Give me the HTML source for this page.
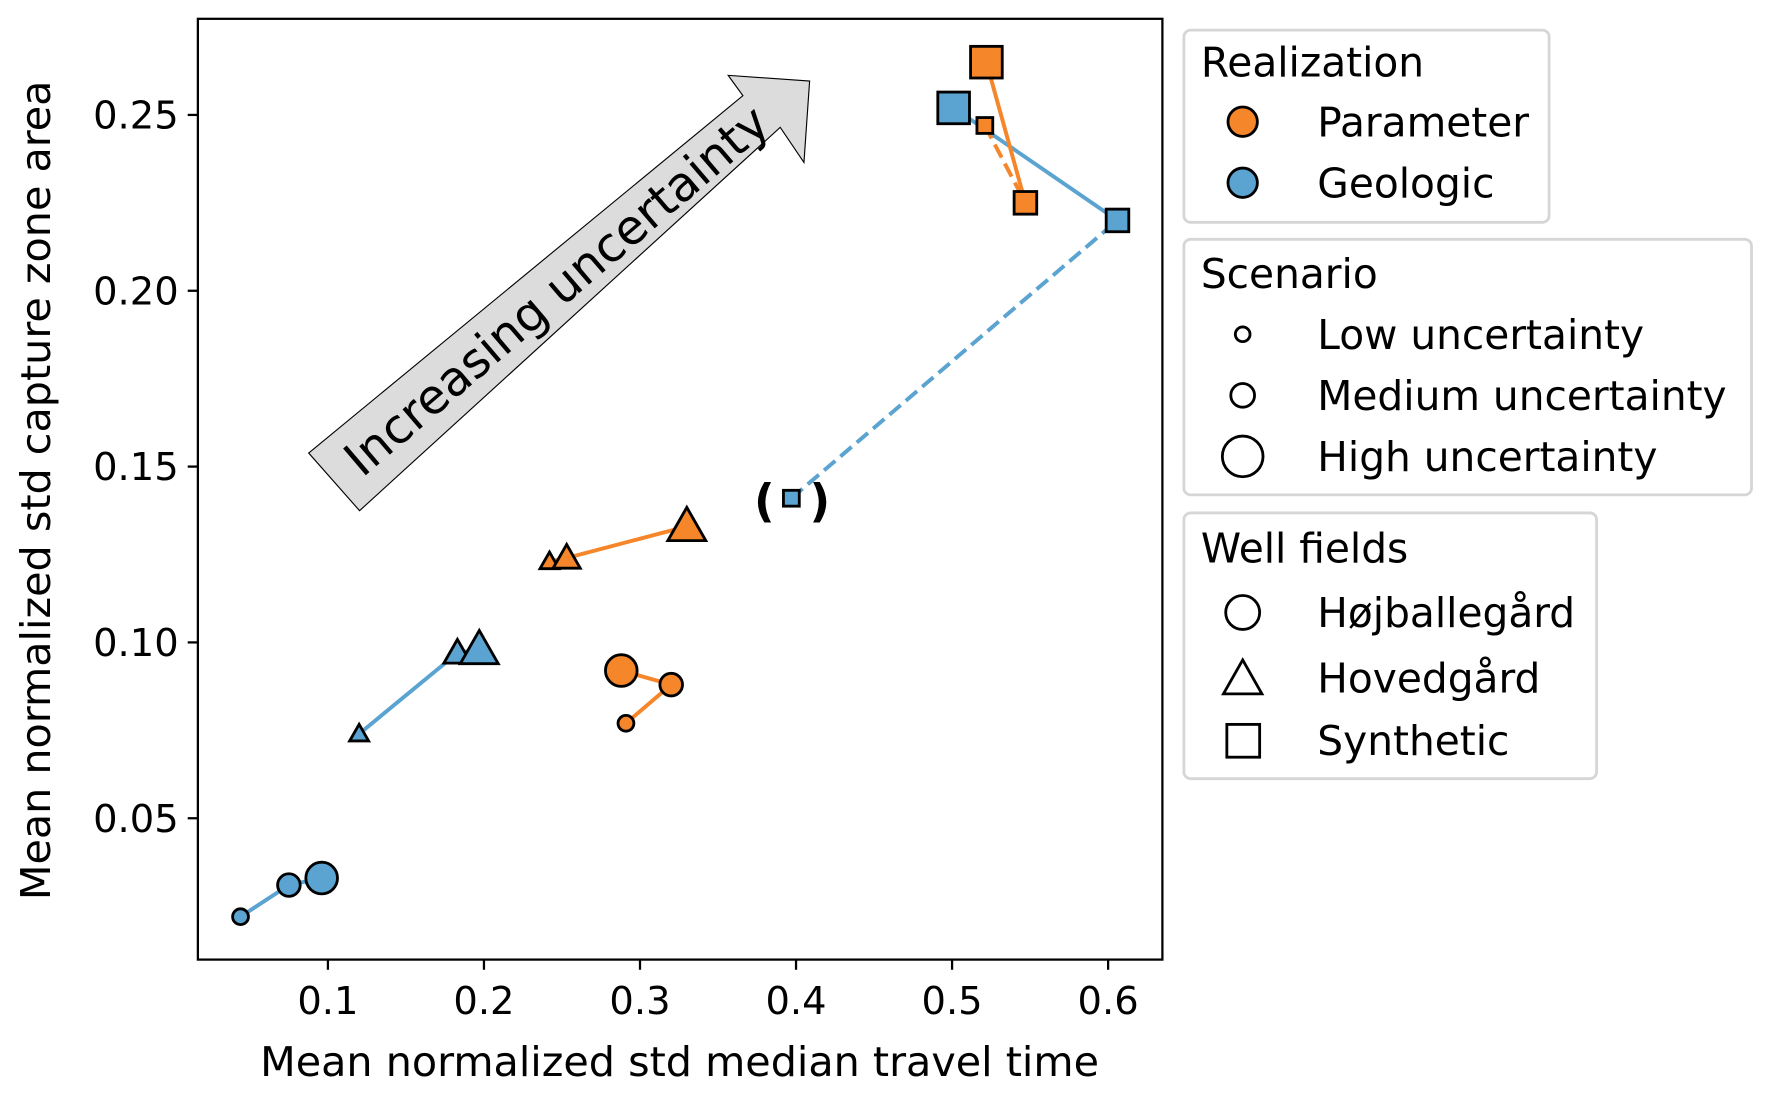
<!DOCTYPE html>
<html><head><meta charset="utf-8"><style>
html,body{margin:0;padding:0;background:#fff;}
svg{display:block;font-family:"DejaVu Sans","Liberation Sans",sans-serif;}
</style></head><body>
<svg id="chart" width="1773" height="1096" viewBox="0 0 1568 968">
<rect x="0" y="0" width="1568" height="968" fill="#fff"/>
<g id="arrow">
<polygon points="273,400 657,84 644,66 716,71 711,143 690,112 318,451" fill="#dcdcdc" stroke="#000" stroke-width="1"/>
<text x="492" y="271" font-size="42.5" text-anchor="middle" transform="rotate(-40.5 492 256)">Increasing uncertainty</text>
</g>
<g id="lines"></g>
<g id="marks"></g>
<text x="676" y="456" font-size="40" font-weight="bold" text-anchor="middle">(</text>
<text x="725" y="456" font-size="40" font-weight="bold" text-anchor="middle">)</text>
<rect x="175" y="16" width="853" height="832" fill="none" stroke="#000" stroke-width="2"/>
<g id="xticks"></g><g id="yticks"></g>
<text x="601" y="951" font-size="36.5" text-anchor="middle">Mean normalized std median travel time</text>
<text transform="translate(44 433) rotate(-90)" font-size="36.5" text-anchor="middle">Mean normalized std capture zone area</text>

<g>
<rect x="1047" y="26" width="323" height="170" rx="6" fill="#fff" stroke="#d6d6d6" stroke-width="2.5"/>
<text x="1062" y="67" font-size="36">Realization</text>
<circle cx="1099" cy="107" r="13" fill="#f5862a" stroke="#000" stroke-width="2.5"/>
<text x="1165" y="120" font-size="36">Parameter</text>
<circle cx="1099" cy="161" r="13" fill="#5ba3d0" stroke="#000" stroke-width="2.5"/>
<text x="1165" y="174" font-size="36">Geologic</text>
</g>
<g>
<rect x="1047" y="211" width="502" height="226" rx="6" fill="#fff" stroke="#d6d6d6" stroke-width="2.5"/>
<text x="1062" y="254" font-size="36">Scenario</text>
<circle cx="1099" cy="295" r="6.5" fill="#fff" stroke="#000" stroke-width="2.5"/>
<text x="1165" y="308" font-size="36">Low uncertainty</text>
<circle cx="1099" cy="349" r="10.5" fill="#fff" stroke="#000" stroke-width="2.5"/>
<text x="1165" y="362" font-size="36">Medium uncertainty</text>
<circle cx="1099" cy="403" r="18" fill="#fff" stroke="#000" stroke-width="2.5"/>
<text x="1165" y="416" font-size="36">High uncertainty</text>
</g>
<g>
<rect x="1047" y="453" width="365" height="235" rx="6" fill="#fff" stroke="#d6d6d6" stroke-width="2.5"/>
<text x="1062" y="497" font-size="36">Well fields</text>
<circle cx="1099" cy="541" r="15" fill="#fff" stroke="#000" stroke-width="2.5"/>
<text x="1165" y="554" font-size="36">Højballegård</text>
<polygon points="1099,583 1116,613 1082,613" fill="#fff" stroke="#000" stroke-width="2.5"/>
<text x="1165" y="612" font-size="36">Hovedgård</text>
<rect x="1085" y="640" width="29" height="29" fill="#fff" stroke="#000" stroke-width="2.5"/>
<text x="1165" y="667" font-size="36">Synthetic</text>
</g>
</svg>
<script>
const xTicks=[0.1,0.2,0.3,0.4,0.5,0.6];
const yTicks=[0.05,0.10,0.15,0.20,0.25];
const yTickLabels=["0.05","0.10","0.15","0.20","0.25"];
// series: [low, medium, high] for each realization/well field
const geoHojX=[0.044,0.075,0.096], geoHojY=[0.022,0.031,0.033];
const geoHovX=[0.120,0.183,0.197], geoHovY=[0.074,0.097,0.098];
const geoSynX=[0.397,0.606,0.501], geoSynY=[0.141,0.220,0.252];
const parHojX=[0.291,0.320,0.288], parHojY=[0.077,0.088,0.092];
const parHovX=[0.242,0.253,0.330], parHovY=[0.123,0.124,0.133];
const parSynX=[0.521,0.547,0.522], parSynY=[0.247,0.225,0.265];

const NS="http://www.w3.org/2000/svg";
const sx=v=>290+(v-0.1)*1380;
const sy=v=>723-(v-0.05)*3110;
const C={geo:"#5ba3d0",par:"#f5862a"};
const sizes=[7,10,14];
function mk(t,a,p){const e=document.createElementNS(NS,t);for(const k in a)e.setAttribute(k,a[k]);p.appendChild(e);return e;}
const xg=document.getElementById('xticks'),yg=document.getElementById('yticks');
xTicks.forEach(v=>{
  const l=mk('line',{x1:sx(v),x2:sx(v),y1:848,y2:857,stroke:'#000','stroke-width':2},xg);
  
  
  const t=mk('text',{x:sx(v),y:896,'font-size':34,'text-anchor':'middle'},xg);t.textContent=String(v);
  
  
});
yTicks.forEach((v,i)=>{
  const l=mk('line',{x1:166,x2:175,y1:sy(v),y2:sy(v),stroke:'#000','stroke-width':2},yg);
  
  
  const t=mk('text',{x:158,y:sy(v)+12,'font-size':34,'text-anchor':'end'},yg);t.textContent=yTickLabels[i];
  
  
});
const lg=document.getElementById('lines'),mg=document.getElementById('marks');
const series=[
 {n:'geologic-hojballegard',x:geoHojX,y:geoHojY,c:C.geo,s:'circle',dash:false},
 {n:'geologic-hovedgard',x:geoHovX,y:geoHovY,c:C.geo,s:'tri',dash:false},
 {n:'geologic-synthetic',x:geoSynX,y:geoSynY,c:C.geo,s:'sq',dash:true},
 {n:'parameter-hojballegard',x:parHojX,y:parHojY,c:C.par,s:'circle',dash:false},
 {n:'parameter-hovedgard',x:parHovX,y:parHovY,c:C.par,s:'tri',dash:false},
 {n:'parameter-synthetic',x:parSynX,y:parSynY,c:C.par,s:'sq',dash:true}
];
series.forEach(S=>{
  for(let i=0;i<2;i++){
    const a={x1:sx(S.x[i]),y1:sy(S.y[i]),x2:sx(S.x[i+1]),y2:sy(S.y[i+1]),stroke:S.c,'stroke-width':3.5};
    if(S.dash&&i===0)a['stroke-dasharray']='13 6';
    const l=mk('line',a,lg);
    
    
  }
  S.x.forEach((xv,i)=>{
    const cx=sx(xv),cy=sy(S.y[i]),r=sizes[i];let e;
    if(S.s==='circle')e=mk('circle',{cx:cx,cy:cy,r:r},mg);
    else if(S.s==='sq')e=mk('rect',{x:cx-r,y:cy-r,width:2*r,height:2*r},mg);
    else{const h=r*1.2;e=mk('polygon',{points:`${cx},${cy-h} ${cx+h},${cy+h*0.75} ${cx-h},${cy+h*0.75}`},mg);}
    e.setAttribute('fill',S.c);e.setAttribute('stroke','#000');e.setAttribute('stroke-width',2.5);
    
    
  });
});
</script>
</body></html>
